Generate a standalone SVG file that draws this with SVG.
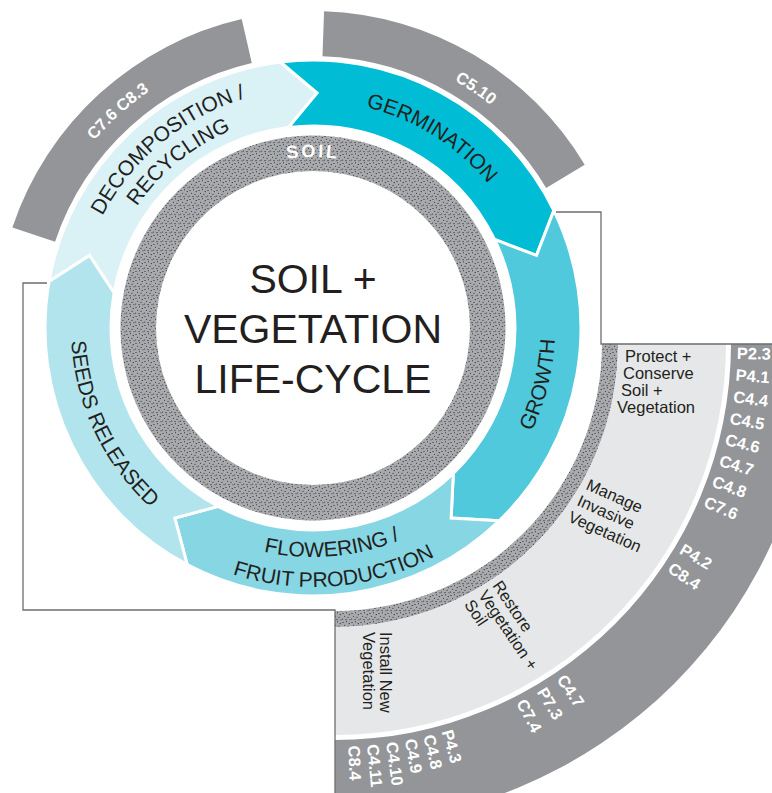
<svg xmlns="http://www.w3.org/2000/svg" width="772" height="793" viewBox="0 0 772 793">
<style>
text{font-family:"Liberation Sans",Arial,Helvetica,sans-serif}
.lbl{font-size:21px;fill:#231f20}
.ctr{font-size:41px;fill:#231f20}
.q{font-size:16.5px;fill:#231f20}
.code{font-size:16.5px;font-weight:bold;fill:#ffffff}
.seg{stroke:#ffffff;stroke-width:3;stroke-linejoin:miter}
.band{fill:#939598}
.conn{fill:none;stroke:#6d6e71;stroke-width:1.3}
</style>
<defs>
<pattern id="soilTex" width="9" height="9" patternUnits="userSpaceOnUse">
<rect width="9" height="9" fill="#a8aaad"/>
<g fill="#151515">
<circle cx="1" cy="1.5" r="0.55"/><circle cx="4.5" cy="0.8" r="0.5"/><circle cx="7.2" cy="2.6" r="0.55"/><circle cx="2.6" cy="4.2" r="0.5"/><circle cx="6" cy="5.2" r="0.55"/><circle cx="0.7" cy="7" r="0.5"/><circle cx="4" cy="7.6" r="0.55"/><circle cx="8" cy="7.8" r="0.5"/>
</g>
</pattern>
<clipPath id="quadClip"><rect x="335" y="344" width="437" height="449"/></clipPath>
<path id="pSoil" d="M 203.08,197.01 A 171 171 0 0 1 422.92,197.01"/>
<path id="pGerm" d="M 313,101 A 227 227 0 0 1 517.03,228.49"/>
<path id="pDec1" d="M 82.16,268.20 A 240 240 0 0 1 300.44,88.33"/>
<path id="pDec2" d="M 106.29,272.61 A 214 214 0 0 1 301.80,114.29"/>
<path id="pGrow" d="M 468.56,513.38 A 242 242 0 0 0 537.38,237.34"/>
<path id="pFl1" d="M 181.65,515.59 A 229 229 0 0 0 474.93,489.93"/>
<path id="pFl2" d="M 164.44,540.16 A 259 259 0 0 0 496.14,511.14"/>
<path id="pSeed" d="M 74.68,285.98 A 242 242 0 0 0 195.68,539.66"/>
<path id="pTL" d="M 40.69,234.24 A 288 288 0 0 1 248.21,47.38"/>
<path id="pTR" d="M 322.95,43.17 A 285 285 0 0 1 557.29,181.21"/>
</defs>
<rect width="772" height="793" fill="#ffffff"/>

<g id="quadrant" clip-path="url(#quadClip)">
<path fill="url(#soilTex)" fill-rule="evenodd" d="M 52,344 a283 283 0 1 0 566 0 a283 283 0 1 0 -566 0 Z M 68,344 a267 267 0 1 0 534 0 a267 267 0 1 0 -534 0 Z"/>
<path fill="#e6e7e8" fill-rule="evenodd" d="M -56,344 a391 391 0 1 0 782 0 a391 391 0 1 0 -782 0 Z M 52,344 a283 283 0 1 0 566 0 a283 283 0 1 0 -566 0 Z"/>
<path class="band" fill-rule="evenodd" d="M -145,344 a480 480 0 1 0 960 0 a480 480 0 1 0 -960 0 Z M -61,344 a396 396 0 1 0 792 0 a396 396 0 1 0 -792 0 Z"/>
</g>

<g id="soil">
<path fill="url(#soilTex)" fill-rule="evenodd" d="M 120.5,328 a192.5 192.5 0 1 0 385 0 a192.5 192.5 0 1 0 -385 0 Z M 156,328 a157 157 0 1 0 314 0 a157 157 0 1 0 -314 0 Z"/>
<text font-size="18" font-weight="bold" fill="#ffffff" letter-spacing="2.5"><textPath href="#pSoil" startOffset="50%" text-anchor="middle">SOIL</textPath></text>
</g>

<g id="center">
<text class="ctr" x="313" y="293" text-anchor="middle">SOIL +</text>
<text class="ctr" x="313" y="343" text-anchor="middle">VEGETATION</text>
<text class="ctr" x="313" y="393" text-anchor="middle">LIFE-CYCLE</text>
</g>

<g id="decomposition">
<path class="seg" fill="#daf1f6" d="M 49.07,281.46 A 268 268 0 0 1 280.34,62.00 L 317.10,93.04 L 288.38,127.50 A 202 202 0 0 0 114.07,292.92 L 89.50,255.38 Z"/>
<text class="lbl"><textPath href="#pDec1" startOffset="50%" text-anchor="middle">DECOMPOSITION /</textPath></text>
<text class="lbl"><textPath href="#pDec2" startOffset="50%" text-anchor="middle">RECYCLING</textPath></text>
</g>
<g id="germination">
<path class="seg" fill="#00bcd4" d="M 280.34,62.00 A 268 268 0 0 1 553.88,210.52 L 536.50,255.38 L 494.56,239.45 A 202 202 0 0 0 288.38,127.50 L 317.10,93.04 Z"/>
<text class="lbl"><textPath href="#pGerm" startOffset="50%" text-anchor="middle">GERMINATION</textPath></text>
</g>
<g id="growth">
<path class="seg" fill="#4fc9db" d="M 553.88,210.52 A 268 268 0 0 1 499.17,520.78 L 451.13,518.12 L 453.32,473.31 A 202 202 0 0 0 494.56,239.45 L 536.50,255.38 Z"/>
<text class="lbl"><textPath href="#pGrow" startOffset="50%" text-anchor="middle">GROWTH</textPath></text>
</g>
<g id="flowering">
<path class="seg" fill="#86d6e4" d="M 499.17,520.78 A 268 268 0 0 1 187.18,564.63 L 174.87,518.12 L 218.17,506.36 A 202 202 0 0 0 453.32,473.31 L 451.13,518.12 Z"/>
<text class="lbl"><textPath href="#pFl1" startOffset="50%" text-anchor="middle">FLOWERING /</textPath></text>
<text class="lbl"><textPath href="#pFl2" startOffset="50%" text-anchor="middle">FRUIT PRODUCTION</textPath></text>
</g>
<g id="seeds">
<path class="seg" fill="#b2e4ee" d="M 187.18,564.63 A 268 268 0 0 1 49.07,281.46 L 89.50,255.38 L 114.07,292.92 A 202 202 0 0 0 218.17,506.36 L 174.87,518.12 Z"/>
<text class="lbl"><textPath href="#pSeed" startOffset="50%" text-anchor="middle">SEEDS RELEASED</textPath></text>
</g>

<g id="codes-top-left">
<path class="band" d="M 12.38,227.42 A 317 317 0 0 1 241.69,19.12 L 251.81,62.97 A 272 272 0 0 0 55.06,241.69 Z"/>
<text class="code"><textPath href="#pTL" startOffset="50%" text-anchor="middle">C7.6 C8.3</textPath></text>
</g>
<g id="codes-top-right">
<path class="band" d="M 324.06,11.19 A 317 317 0 0 1 584.72,164.73 L 546.15,187.91 A 272 272 0 0 0 322.49,56.17 Z"/>
<text class="code"><textPath href="#pTR" startOffset="56.5%" text-anchor="middle">C5.10</textPath></text>
</g>

<g id="connectors">
<polyline class="conn" points="47,283 23,283 23,610 335,610 335,793"/>
<polyline class="conn" points="556,212 601,212 601,344 772,344"/>
</g>

<g id="protect">
<text class="q" x="625" y="362">Protect +</text>
<text class="q" x="623" y="379">Conserve</text>
<text class="q" x="621" y="396">Soil +</text>
<text class="q" x="617" y="413">Vegetation</text>
</g>
<g id="manage">
<text class="q" transform="translate(585,489) rotate(24)">Manage</text>
<text class="q" transform="translate(576,505) rotate(24)">Invasive</text>
<text class="q" transform="translate(567,521) rotate(24)">Vegetation</text>
</g>
<g id="restore" transform="rotate(56 335 344)">
<text class="q" x="623" y="349">Restore</text>
<text class="q" x="623" y="366">Vegetation +</text>
<text class="q" x="623" y="383">Soil</text>
</g>
<g id="install" transform="rotate(90 335 344)">
<text class="q" x="623" y="299">Install New</text>
<text class="q" x="623" y="316">Vegetation</text>
</g>

<g id="codes-quadrant">
<text class="code" x="737" y="349.8" transform="rotate(1.3 335 344)">P2.3</text>
<text class="code" x="737" y="349.8" transform="rotate(4.4 335 344)">P4.1</text>
<text class="code" x="737" y="349.8" transform="rotate(7.5 335 344)">C4.4</text>
<text class="code" x="737" y="349.8" transform="rotate(10.6 335 344)">C4.5</text>
<text class="code" x="737" y="349.8" transform="rotate(13.7 335 344)">C4.6</text>
<text class="code" x="737" y="349.8" transform="rotate(16.8 335 344)">C4.7</text>
<text class="code" x="737" y="349.8" transform="rotate(19.9 335 344)">C4.8</text>
<text class="code" x="737" y="349.8" transform="rotate(23 335 344)">C7.6</text>
<text class="code" x="737" y="349.8" transform="rotate(30.5 335 344)">P4.2</text>
<text class="code" x="737" y="349.8" transform="rotate(33.6 335 344)">C8.4</text>
<text class="code" x="737" y="349.8" transform="rotate(55.8 335 344)">C4.7</text>
<text class="code" x="737" y="349.8" transform="rotate(59.1 335 344)">P7.3</text>
<text class="code" x="737" y="349.8" transform="rotate(62.4 335 344)">C7.4</text>
<text class="code" x="737" y="349.8" transform="rotate(73.8 335 344)">P4.3</text>
<text class="code" x="737" y="349.8" transform="rotate(76.5 335 344)">C4.8</text>
<text class="code" x="737" y="349.8" transform="rotate(79.2 335 344)">C4.9</text>
<text class="code" x="737" y="349.8" transform="rotate(81.9 335 344)">C4.10</text>
<text class="code" x="737" y="349.8" transform="rotate(84.6 335 344)">C4.11</text>
<text class="code" x="737" y="349.8" transform="rotate(87.3 335 344)">C8.4</text>
</g>
</svg>
